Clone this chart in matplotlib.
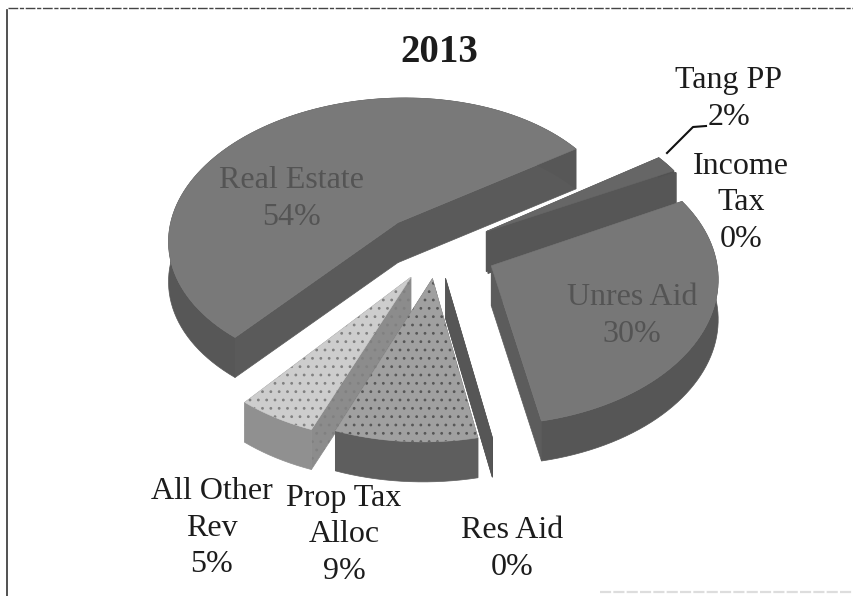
import numpy as np
import matplotlib
matplotlib.use("Agg")
import matplotlib.pyplot as plt

plt.rcParams['font.family'] = ['Liberation Serif', 'DejaVu Serif']
plt.rcParams['hatch.linewidth'] = 0.8

# revenue share by source, clockwise from the top right
names = ['Real Estate', 'Tang PP', 'Income Tax', 'Unres Aid', 'Res Aid', 'Prop Tax Alloc', 'All Other Rev']
shares = [54, 2, 0, 30, 0, 9, 5]
title = '2013'

# slices are laid out clockwise, Real Estate ends at this angle
first_end = 36.0 + 7.2 + 194.4

explode = [0.27, 0.25, 0.25, 0.26, 0.20, 0.20, 0.22]
top_colors = ['#797979', '#666666', '#666666', '#777777', '#5a5a5a', '#a0a0a0', '#cdcdcd']
wall_colors = ['#575757', '#525252', '#525252', '#565656', '#4c4c4c', '#5e5e5e', '#909090']
face_colors = ['#5a5a5a', '#565656', '#565656', '#5c5c5c', '#565656', '#606060', '#8c8c8c']
hatch_colors = [None, None, None, None, None, '#565656', '#808080']

# back slices first so the front ones sit over them
draw_order = [0, 1, 2, 3, 6, 5, 4]

CX, CY = 438.0, 250.0
RX, RY = 225.0, 140.0
PERSP = 0.1
SHEAR = 35.0
TILT = 18.0
DEPTH = 40.0


def project(x, y):
    s = 1.0 / (1.0 + PERSP * y)
    return CX + RX * x * s + SHEAR * y, CY - RY * y * s + TILT * x


def slice_faces(start, end, off):
    # start > end in degrees, going clockwise
    mid = np.radians((start + end) / 2.0)
    ox, oy = off * np.cos(mid), off * np.sin(mid)
    n = max(2, int(abs(start - end) / 2) + 2)
    th = np.radians(np.linspace(start, end, n))
    ax_, ay_ = project(np.array([ox]), np.array([oy]))
    rx_, ry_ = project(ox + np.cos(th), oy + np.sin(th))
    return ax_[0], ay_[0], rx_, ry_


def draw_slice(ax, i, start, end):
    px, py, rx_, ry_ = slice_faces(start, end, explode[i])

    # the two cut faces
    for k in (0, -1):
        xs = [px, rx_[k], rx_[k], px]
        ys = [py, ry_[k], ry_[k] + DEPTH, py + DEPTH]
        ax.fill(xs, ys, color=face_colors[i], lw=0.5)
        if hatch_colors[i] is not None:
            ax.fill(xs, ys, facecolor='none', edgecolor=hatch_colors[i], hatch='..', lw=0)

    # rim
    ax.fill(np.r_[rx_, rx_[::-1]], np.r_[ry_, ry_[::-1] + DEPTH], color=wall_colors[i], lw=0.5)

    # top surface
    if start != end:
        xs, ys = np.r_[px, rx_], np.r_[py, ry_]
        ax.fill(xs, ys, color=top_colors[i], lw=0.4)
        if hatch_colors[i] is not None:
            ax.fill(xs, ys, facecolor='none', edgecolor=hatch_colors[i], hatch='..', lw=0)


fig = plt.figure(figsize=(8.54, 5.96), dpi=100)
ax = fig.add_axes([0, 0, 1, 1])
ax.set_xlim(0, 854)
ax.set_ylim(596, 0)
ax.axis('off')

# slice angles from the shares
total = float(sum(shares))
ends = first_end - np.cumsum(np.array(shares) / total * 360.0)
starts = np.r_[first_end, ends[:-1]]
for i in draw_order:
    draw_slice(ax, i, starts[i], ends[i])

# scanned frame
ax.plot([7, 7], [10, 596], color='#333333', lw=1.2)
ax.plot([8, 854], [8, 8], color='#444444', lw=1.0, ls=(0, (7, 1.2, 3, 1.2)))
ax.plot([600, 854], [592, 592], color='#dddddd', lw=1.6, ls=(0, (5, 1)))

# leader for Tang PP
ax.plot([667, 693, 706], [153, 127, 126], color='#111111', lw=1.5)

ax.text(439, 53, title, ha='center', va='center', fontsize=28, fontweight='bold', color='#1c1c1c')

lab = dict(ha='center', va='center', fontsize=23, color='#1c1c1c', linespacing=1.33)
inner = dict(ha='center', va='center', fontsize=23, color='#545454', linespacing=1.33)

ax.text(292, 199, 'Real Estate\n54%', **inner)
ax.text(632, 316, 'Unres Aid\n30%', **inner)
ax.text(729, 99, 'Tang PP\n2%', **lab)
ax.text(741, 203, 'Income\nTax\n0%', **lab)
ax.text(212, 528, 'All Other\nRev\n5%', **lab)
ax.text(344, 535, 'Prop Tax\nAlloc\n9%', **lab)
ax.text(512, 549, 'Res Aid\n0%', **lab)

fig.savefig('out.png', dpi=100)
